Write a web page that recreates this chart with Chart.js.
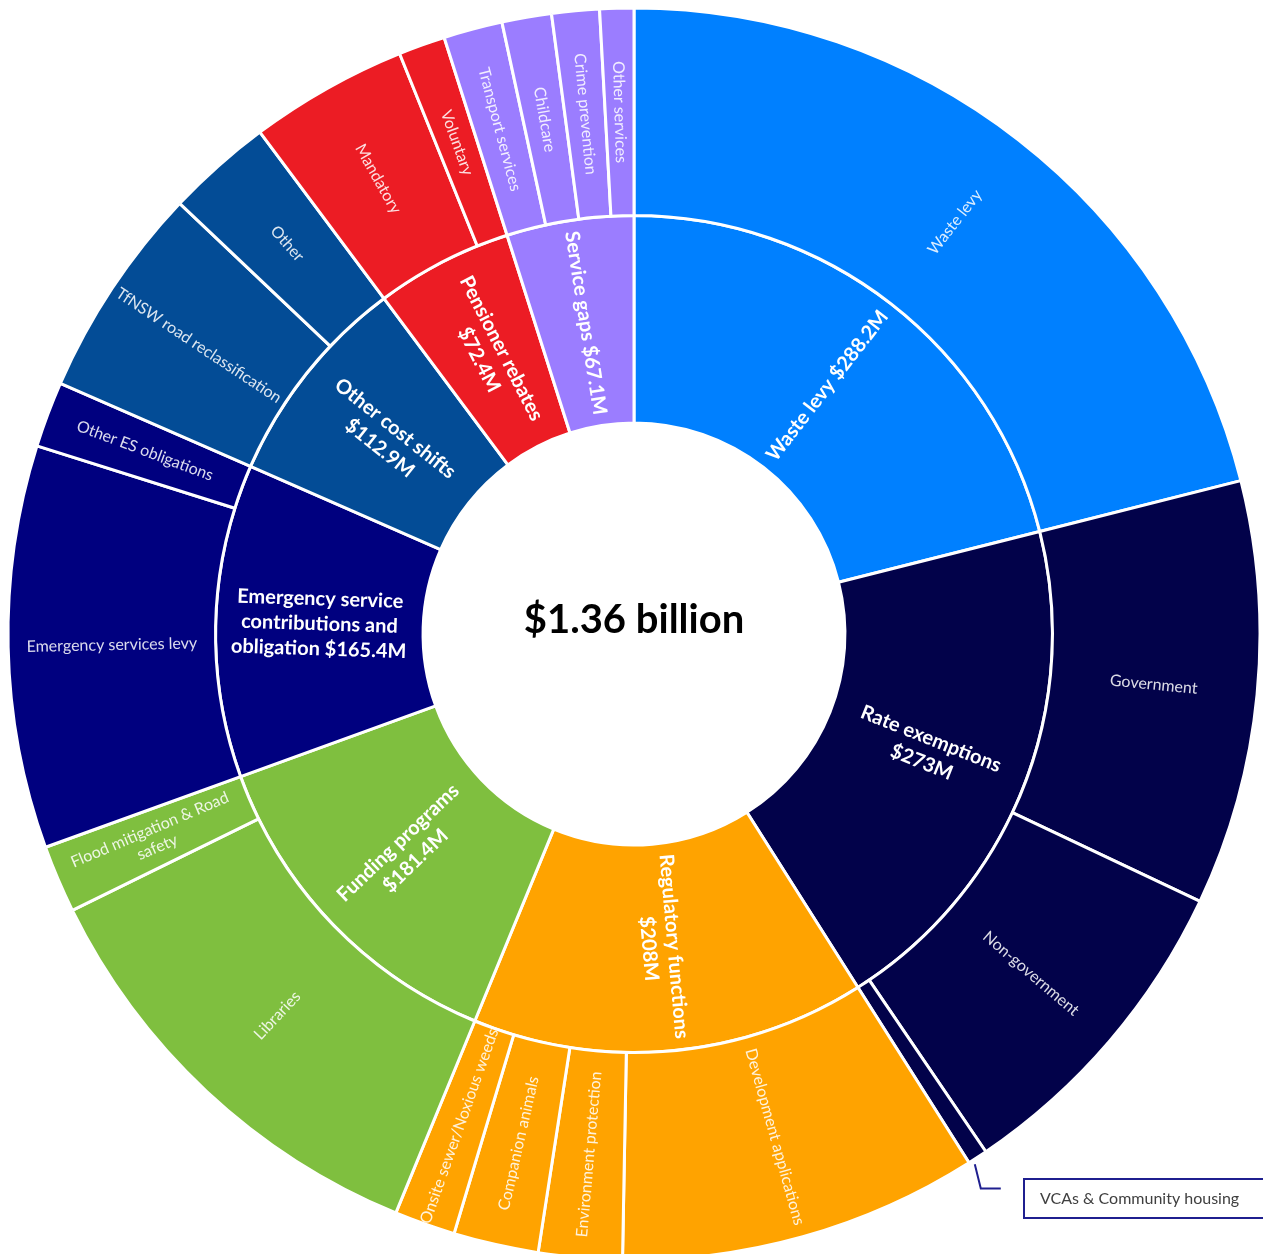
<!DOCTYPE html>
<html><head><meta charset="utf-8">
<script src="https://cdn.jsdelivr.net/npm/chart.js@4"></script>
<style>html,body{margin:0;padding:0;background:#fff;overflow:hidden}</style>
</head><body>
<canvas id="c" width="1263" height="1254" style="display:block;width:1263px;height:1254px"></canvas>
<script>
const centerTitle = '$1.36 billion';
const groupNames = ['Waste levy', 'Rate exemptions', 'Regulatory functions', 'Funding programs',
  'Emergency service|contributions and|obligation', 'Other cost shifts', 'Pensioner rebates', 'Service gaps'];
const groupValueOnNewLine = [false, true, true, true, false, true, true, false];
const groupValues = [288.2, 273, 208, 181.4, 165.4, 112.9, 72.4, 67.1];
const groupColors = ['#0080FF', '#02024A', '#FFA300', '#7FBF3F', '#00007F', '#034C96', '#EC1C24', '#9B7DFF'];

const subNames = ['Waste levy',
  'Government', 'Non-government', 'VCAs & Community housing',
  'Development applications', 'Environment protection', 'Companion animals', 'Onsite sewer/Noxious weeds',
  'Libraries', 'Flood mitigation & Road|safety',
  'Emergency services levy', 'Other ES obligations',
  'TfNSW road reclassification', 'Other',
  'Mandatory', 'Voluntary',
  'Transport services', 'Childcare', 'Crime prevention', 'Other services'];
const subValues = [288.2,
  150, 116, 7,
  127, 29.5, 30, 21.5,
  157.5, 23.9,
  142.2, 23.2,
  75.5, 37.4,
  55.9, 16.5,
  20.8, 17.5, 16.8, 12.0];
const subGroup = [0, 1, 1, 1, 2, 2, 2, 2, 3, 3, 4, 4, 5, 5, 6, 6, 7, 7, 7, 7];
const calloutIndex = 3; // shown in a callout box instead of inside the slice

const FONT = 'Lato, "Open Sans", sans-serif';

function fmtMoney(v) { return '$' + v + 'M'; }
function groupLines(i) {
  const parts = groupNames[i].split('|');
  if (groupValueOnNewLine[i]) parts.push(fmtMoney(groupValues[i]));
  else parts[parts.length - 1] += ' ' + fmtMoney(groupValues[i]);
  return parts;
}

function drawRadialText(ctx, arc, lines, font, color, lh) {
  const p = arc.getProps(['x', 'y', 'startAngle', 'endAngle', 'innerRadius', 'outerRadius'], true);
  const mid = (p.startAngle + p.endAngle) / 2;
  const r = (p.innerRadius + p.outerRadius) / 2;
  const px = p.x + r * Math.cos(mid), py = p.y + r * Math.sin(mid);
  let rot = mid;
  if (Math.cos(mid) < 0) rot += Math.PI;
  ctx.save();
  ctx.translate(px, py);
  ctx.rotate(rot);
  ctx.font = font;
  ctx.fillStyle = color;
  ctx.textAlign = 'center';
  ctx.textBaseline = 'middle';
  lines.forEach((l, k) => ctx.fillText(l, 0, (k - (lines.length - 1) / 2) * lh));
  ctx.restore();
}

const labelPlugin = {
  id: 'sunburstLabels',
  afterDatasetsDraw(chart) {
    const ctx = chart.ctx;
    const outer = chart.getDatasetMeta(0).data;
    const inner = chart.getDatasetMeta(1).data;
    outer.forEach((arc, i) => {
      if (i === calloutIndex) return;
      drawRadialText(ctx, arc, subNames[i].split('|'), '16px ' + FONT, 'rgba(255,255,255,0.86)', 19);
    });
    inner.forEach((arc, i) => {
      drawRadialText(ctx, arc, groupLines(i), 'bold 20px ' + FONT, '#ffffff', 25);
    });
    // center title
    const c = inner[0].getProps(['x', 'y'], true);
    ctx.save();
    ctx.font = 'bold 40px ' + FONT;
    ctx.fillStyle = '#000';
    ctx.textAlign = 'center';
    ctx.textBaseline = 'middle';
    ctx.fillText(centerTitle, c.x, c.y - 14);
    ctx.restore();
    // callout for tiny slice
    const a = outer[calloutIndex].getProps(['x', 'y', 'startAngle', 'endAngle', 'outerRadius'], true);
    const m = (a.startAngle + a.endAngle) / 2;
    const sx = a.x + (a.outerRadius + 6) * Math.cos(m);
    const sy = a.y + (a.outerRadius + 6) * Math.sin(m);
    const boxX = 1024, boxY = 1179, boxW = 260, boxH = 39;
    const ey = boxY + boxH / 2 - 10;
    ctx.save();
    ctx.strokeStyle = '#1F1F8F';
    ctx.lineWidth = 2;
    ctx.beginPath();
    ctx.moveTo(sx - 6, sy + 2);
    ctx.lineTo(sx, ey);
    ctx.lineTo(sx + 20, ey);
    ctx.stroke();
    ctx.strokeRect(boxX, boxY, boxW, boxH);
    ctx.font = '16px ' + FONT;
    ctx.fillStyle = '#404040';
    ctx.textAlign = 'left';
    ctx.textBaseline = 'middle';
    ctx.fillText(subNames[calloutIndex], boxX + 16, boxY + boxH / 2);
    ctx.restore();
  }
};

new Chart(document.getElementById('c'), {
  type: 'doughnut',
  data: {
    labels: subNames,
    datasets: [
      {
        data: subValues,
        backgroundColor: subGroup.map(g => groupColors[g]),
        borderColor: '#ffffff',
        borderWidth: 3
      },
      {
        data: groupValues,
        backgroundColor: groupColors,
        borderColor: '#ffffff',
        borderWidth: 3
      }
    ]
  },
  options: {
    responsive: false,
    animation: false,
    devicePixelRatio: 1,
    radius: 626,
    cutout: '33.7%',
    layout: { padding: { left: 5, top: 14, right: 0, bottom: 0 } },
    plugins: { legend: { display: false }, tooltip: { enabled: false } },
    events: []
  },
  plugins: [labelPlugin]
});
</script>
</body></html>
